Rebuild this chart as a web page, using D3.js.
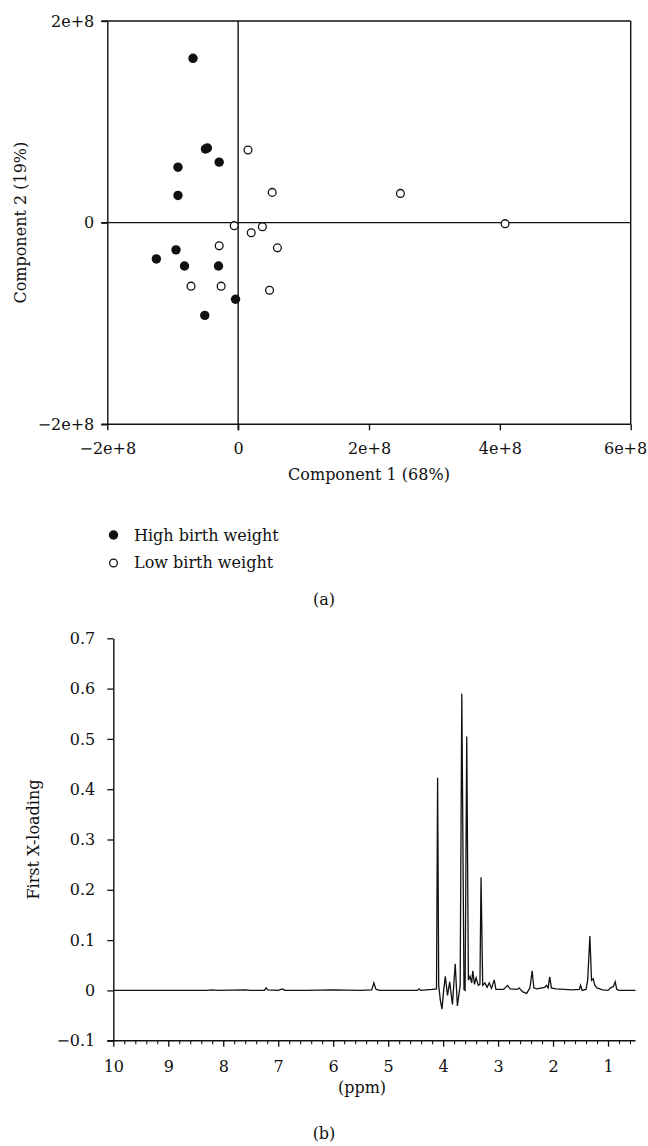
<!DOCTYPE html>
<html>
<head>
<meta charset="utf-8">
<script src="https://cdn.jsdelivr.net/npm/d3@7"></script>
<style>
  html, body { margin: 0; padding: 0; background: #fff; }
  svg { display: block; }
  text { font-family: "DejaVu Serif", "Liberation Serif", serif; fill: #111; }
</style>
</head>
<body>
<svg id="chart" width="648" height="1146"></svg>
<script>
// ---------- Data: panel (a) PCA scores ----------
const highX = [-0.69e8, -0.50e8, -0.47e8, -0.29e8, -0.92e8, -0.92e8, -0.95e8, -1.25e8, -0.82e8, -0.30e8, -0.04e8, -0.51e8];
const highY = [ 1.63e8,  0.73e8,  0.74e8,  0.60e8,  0.55e8,  0.27e8, -0.27e8, -0.36e8, -0.43e8, -0.43e8, -0.76e8, -0.92e8];
const lowX  = [ 0.15e8, 0.52e8, 2.48e8, 4.08e8, -0.06e8,  0.37e8,  0.20e8, -0.29e8,  0.60e8, -0.72e8, -0.26e8,  0.48e8];
const lowY  = [ 0.72e8, 0.30e8, 0.29e8, -0.01e8, -0.03e8, -0.04e8, -0.10e8, -0.23e8, -0.25e8, -0.63e8, -0.63e8, -0.67e8];
const scoreTicksX = [-2e8, 0, 2e8, 4e8, 6e8];
const scoreTicksY = [-2e8, 0, 2e8];
const scoreTickLabels = {"-200000000": "\u22122e+8", "0": "0", "200000000": "2e+8", "400000000": "4e+8", "600000000": "6e+8"};
const legendLabels = ["High birth weight", "Low birth weight"];

// ---------- Data: panel (b) first X-loading spectrum ----------
const ppm = [10.0, 8.30, 8.20, 8.10, 7.60, 7.50, 7.25, 7.22, 7.19, 7.00, 6.92, 6.88, 6.50, 6.00, 5.50,
  5.30, 5.26, 5.22, 5.15, 4.80, 4.47, 4.44, 4.41, 4.20, 4.12, 4.10, 4.08, 4.05, 4.02, 3.99, 3.96,
  3.92, 3.88, 3.83, 3.78, 3.74, 3.69, 3.66, 3.62, 3.60, 3.57, 3.54, 3.51, 3.48, 3.46, 3.43, 3.40,
  3.36, 3.33, 3.31, 3.28, 3.24, 3.20, 3.16, 3.12, 3.07, 3.04, 2.90, 2.83, 2.78, 2.65, 2.62, 2.55,
  2.48, 2.42, 2.38, 2.35, 2.30, 2.15, 2.12, 2.09, 2.06, 2.03, 1.95, 1.80, 1.65, 1.52, 1.50, 1.47,
  1.40, 1.37, 1.33, 1.30, 1.27, 1.24, 1.20, 1.10, 1.00, 0.95, 0.90, 0.87, 0.84, 0.80, 0.50];
const loading = [0, 0, 0.001, 0, 0.001, 0, 0, 0.005, 0.001, 0, 0.003, 0, 0, 0.001, 0,
  0.001, 0.015, 0.002, 0, 0, 0, 0.003, 0, 0.002, 0.003, 0.423, 0.01, -0.02, -0.037, 0.0, 0.028,
  -0.01, 0.017, -0.028, 0.053, -0.031, 0.01, 0.59, 0.002, 0.0, 0.505, 0.02, 0.028, 0.015, 0.039, 0.012, 0.025,
  0.01, 0.012, 0.225, 0.01, 0.015, 0.006, 0.015, 0.004, 0.021, 0.002, 0.002, 0.01, 0.003, 0.002, 0.005, -0.003,
  -0.006, 0.005, 0.039, 0.005, 0.003, 0.006, 0.01, 0.005, 0.027, 0.005, 0.003, 0.002, 0.001, 0.002, 0.01, 0.0,
  0.002, 0.02, 0.108, 0.02, 0.023, 0.01, 0.005, 0.001, 0.0, 0.005, 0.008, 0.017, 0.002, 0, 0];
const loadTicksY = [-0.1, 0, 0.1, 0.2, 0.3, 0.4, 0.5, 0.6, 0.7];
const ppmMajor = [10, 9, 8, 7, 6, 5, 4, 3, 2, 1];
const ppmMinor = [9.8, 9.6, 9.4, 9.2, 8.8, 8.6, 8.4, 8.2, 7.8, 7.6, 7.4, 7.2, 6.8, 6.6, 6.4, 6.2,
  5.8, 5.6, 5.4, 5.2, 4.8, 4.6, 4.4, 4.2, 3.8, 3.6, 3.4, 3.2, 2.8, 2.6, 2.4, 2.2, 1.8, 1.6, 1.4, 1.2, 0.8, 0.6];

const svg = d3.select("#chart");
const ink = "#111";
const FS = 16;
const FONT = '"DejaVu Serif", serif';

// ================= Panel (a) =================
const xA = d3.scaleLinear().domain([-2e8, 6e8]).range([107.3, 630.7]);
const yA = d3.scaleLinear().domain([-2e8, 2e8]).range([424.3, 21]);
const fmtA = v => scoreTickLabels[String(Math.round(v))];

const gA = svg.append("g");
gA.append("line").attr("x1", xA(-2e8) - 6).attr("x2", xA(6e8)).attr("y1", yA(2e8)).attr("y2", yA(2e8))
  .attr("stroke", ink).attr("stroke-width", 1.4);
gA.append("line").attr("x1", xA(6e8)).attr("x2", xA(6e8)).attr("y1", yA(2e8)).attr("y2", yA(-2e8))
  .attr("stroke", ink).attr("stroke-width", 1.4);
gA.append("line").attr("x1", xA(-2e8) - 6).attr("x2", xA(6e8)).attr("y1", yA(0)).attr("y2", yA(0))
  .attr("stroke", ink).attr("stroke-width", 1.4);
gA.append("line").attr("x1", xA(0)).attr("x2", xA(0)).attr("y1", yA(2e8)).attr("y2", yA(-2e8) + 6)
  .attr("stroke", ink).attr("stroke-width", 1.4);

const axA_x = gA.append("g").attr("transform", `translate(0,${yA(-2e8)})`)
  .call(d3.axisBottom(xA).tickValues(scoreTicksX).tickFormat(fmtA).tickSize(6).tickSizeOuter(0).tickPadding(12));
const axA_y = gA.append("g").attr("transform", `translate(${xA(-2e8)},0)`)
  .call(d3.axisLeft(yA).tickValues(scoreTicksY).tickFormat(fmtA).tickSize(6).tickSizeOuter(0).tickPadding(7));
[axA_x, axA_y].forEach(a => {
  a.select(".domain").attr("stroke", ink).attr("stroke-width", 1.4);
  a.selectAll(".tick line").attr("stroke", ink).attr("stroke-width", 1.4);
  a.selectAll(".tick text").style("font-family", FONT).style("font-size", FS + "px").attr("fill", ink);
});
axA_x.select(".domain").attr("d", `M${xA(-2e8) - 6},0H${xA(6e8)}`);
// last label sits against the right edge, as in the reference
axA_x.selectAll(".tick text").filter(d => d === 6e8).attr("text-anchor", "end").attr("x", 16);

gA.selectAll("circle.high").data(highX.map((x, i) => [x, highY[i]])).enter().append("circle")
  .attr("class", "high").attr("cx", d => xA(d[0])).attr("cy", d => yA(d[1])).attr("r", 4.7).attr("fill", ink);
gA.selectAll("circle.low").data(lowX.map((x, i) => [x, lowY[i]])).enter().append("circle")
  .attr("class", "low").attr("cx", d => xA(d[0])).attr("cy", d => yA(d[1])).attr("r", 3.9)
  .attr("fill", "#fff").attr("stroke", ink).attr("stroke-width", 1.3);

gA.append("text").attr("x", xA(2e8)).attr("y", 480).attr("text-anchor", "middle")
  .style("font-size", FS + "px").text("Component 1 (68%)");
gA.append("text").attr("transform", `translate(26,${yA(0)}) rotate(-90)`).attr("text-anchor", "middle")
  .style("font-size", FS + "px").text("Component 2 (19%)");

const leg = gA.append("g");
leg.append("circle").attr("cx", 113.5).attr("cy", 535).attr("r", 4.7).attr("fill", ink);
leg.append("circle").attr("cx", 113.5).attr("cy", 563).attr("r", 3.9).attr("fill", "#fff").attr("stroke", ink).attr("stroke-width", 1.3);
leg.append("text").attr("x", 134).attr("y", 540.5).style("font-size", FS + "px").text(legendLabels[0]);
leg.append("text").attr("x", 134).attr("y", 568).style("font-size", FS + "px").text(legendLabels[1]);

gA.append("text").attr("x", 324).attr("y", 605).attr("text-anchor", "middle").style("font-size", FS + "px").text("(a)");

// ================= Panel (b) =================
const xB = d3.scaleLinear().domain([10, 0.5]).range([113.3, 635.5]);
const yB = d3.scaleLinear().domain([-0.1, 0.7]).range([1040.7, 638.3]);
const gB = svg.append("g");

const axB_y = gB.append("g").attr("transform", `translate(${xB(10)},0)`)
  .call(d3.axisLeft(yB).tickValues(loadTicksY).tickFormat(v => v < 0 ? "\u2212" + d3.format(".1f")(-v) : (v === 0 ? "0" : d3.format(".1f")(v)))
    .tickSize(6).tickSizeOuter(0).tickPadding(12));
const axB_x = gB.append("g").attr("transform", `translate(0,${yB(-0.1)})`)
  .call(d3.axisBottom(xB).tickValues(ppmMajor).tickFormat(d3.format("d")).tickSize(6).tickSizeOuter(0).tickPadding(14));
gB.append("g").attr("transform", `translate(0,${yB(-0.1)})`)
  .call(d3.axisBottom(xB).tickValues(ppmMinor).tickFormat("").tickSize(3.5).tickSizeOuter(0))
  .call(g => g.select(".domain").remove())
  .selectAll(".tick line").attr("stroke", ink).attr("stroke-width", 1.1);
[axB_x, axB_y].forEach(a => {
  a.select(".domain").attr("stroke", ink).attr("stroke-width", 1.4);
  a.selectAll(".tick line").attr("stroke", ink).attr("stroke-width", 1.3);
  a.selectAll(".tick text").style("font-family", FONT).style("font-size", FS + "px").attr("fill", ink);
});
axB_x.select(".domain").attr("d", `M${xB(10) - 6},0H${xB(0.5)}`);

const line = d3.line().x((d, i) => xB(ppm[i])).y(d => yB(d));
gB.append("path").datum(loading).attr("d", line).attr("fill", "none")
  .attr("stroke", ink).attr("stroke-width", 1.3).attr("stroke-linejoin", "miter");

gB.append("text").attr("transform", `translate(39,${yB(0.3)}) rotate(-90)`).attr("text-anchor", "middle")
  .style("font-size", FS + "px").text("First X-loading");
gB.append("text").attr("x", 362).attr("y", 1093).attr("text-anchor", "middle").style("font-size", FS + "px").text("(ppm)");
gB.append("text").attr("x", 324).attr("y", 1139).attr("text-anchor", "middle").style("font-size", FS + "px").text("(b)");
</script>
</body>
</html>
